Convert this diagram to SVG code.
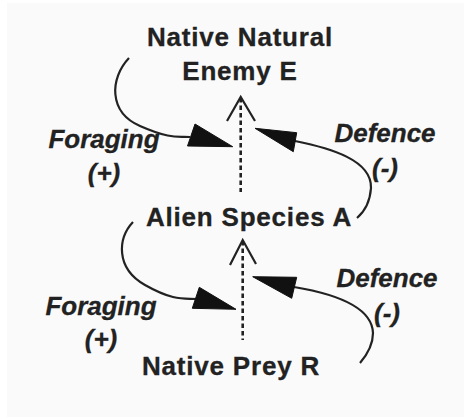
<svg xmlns="http://www.w3.org/2000/svg" width="464" height="417" viewBox="0 0 464 417">
<style>
.node{font-family:"Liberation Sans",Arial,sans-serif;font-weight:bold;font-size:26px;fill:#222;stroke:#222;stroke-width:0.3;text-anchor:middle;letter-spacing:0.8px}
.lbl{font-family:"Liberation Sans",Arial,sans-serif;font-weight:bold;font-style:italic;font-size:26px;fill:#222;stroke:#222;stroke-width:0.3;text-anchor:middle}
.curve{fill:none;stroke:#222;stroke-width:2.2}
.dash{fill:none;stroke:#222;stroke-width:2.6;stroke-dasharray:4.5 3}
.chev{fill:none;stroke:#222;stroke-width:2.2;stroke-linejoin:miter}
.head{fill:#111;stroke:#111;stroke-width:1;stroke-linejoin:round}
</style>
<rect x="0" y="0" width="464" height="417" fill="#ffffff"/>
<rect x="7" y="3" width="457" height="414" fill="#fafafa"/>
<g id="node-E"><text class="node" x="240" y="46">Native Natural</text><text class="node" x="240" y="80">Enemy E</text></g>
<g id="node-A"><text class="node" x="249" y="226">Alien Species A</text></g>
<g id="node-R"><text class="node" x="231" y="375">Native Prey R</text></g>
<g id="labels">
<text class="lbl" x="104" y="148">Foraging</text>
<text class="lbl" x="104" y="182">(+)</text>
<text class="lbl" x="385" y="142">Defence</text>
<text class="lbl" x="385" y="177">(-)</text>
<text class="lbl" x="101" y="315">Foraging</text>
<text class="lbl" x="101" y="348">(+)</text>
<text class="lbl" x="387" y="287">Defence</text>
<text class="lbl" x="387" y="322">(-)</text>
</g>
<g id="connectors">
<path class="dash" d="M240.7,98 V192"/>
<path class="chev" d="M227,121 L240.7,97 L255,121"/>
<path class="dash" d="M242.7,241 V340"/>
<path class="chev" d="M230,265 L242.7,240 L256,264"/>
<path class="curve" d="M129,58 C110,78 108,112 140,126 S178,136 190,137"/>
<polygon class="head" points="195,124 187.5,146 232.7,146.7"/>
<path class="curve" d="M295,141 C330,148 372,160 371,188 C370,202 364,212 357,218"/>
<polygon class="head" points="255,128.3 296.7,132.7 293.3,151.7"/>
<path class="curve" d="M133,222 C118,238 115,268 145,285 S185,298 197,299"/>
<polygon class="head" points="199.3,287.3 192.3,308.3 236,309.3"/>
<path class="curve" d="M294,287 C330,293 372,305 373,333 C373,345 366,356 360,363"/>
<polygon class="head" points="252.7,276.7 296.7,277.3 291.7,298.3"/>
</g>
</svg>
